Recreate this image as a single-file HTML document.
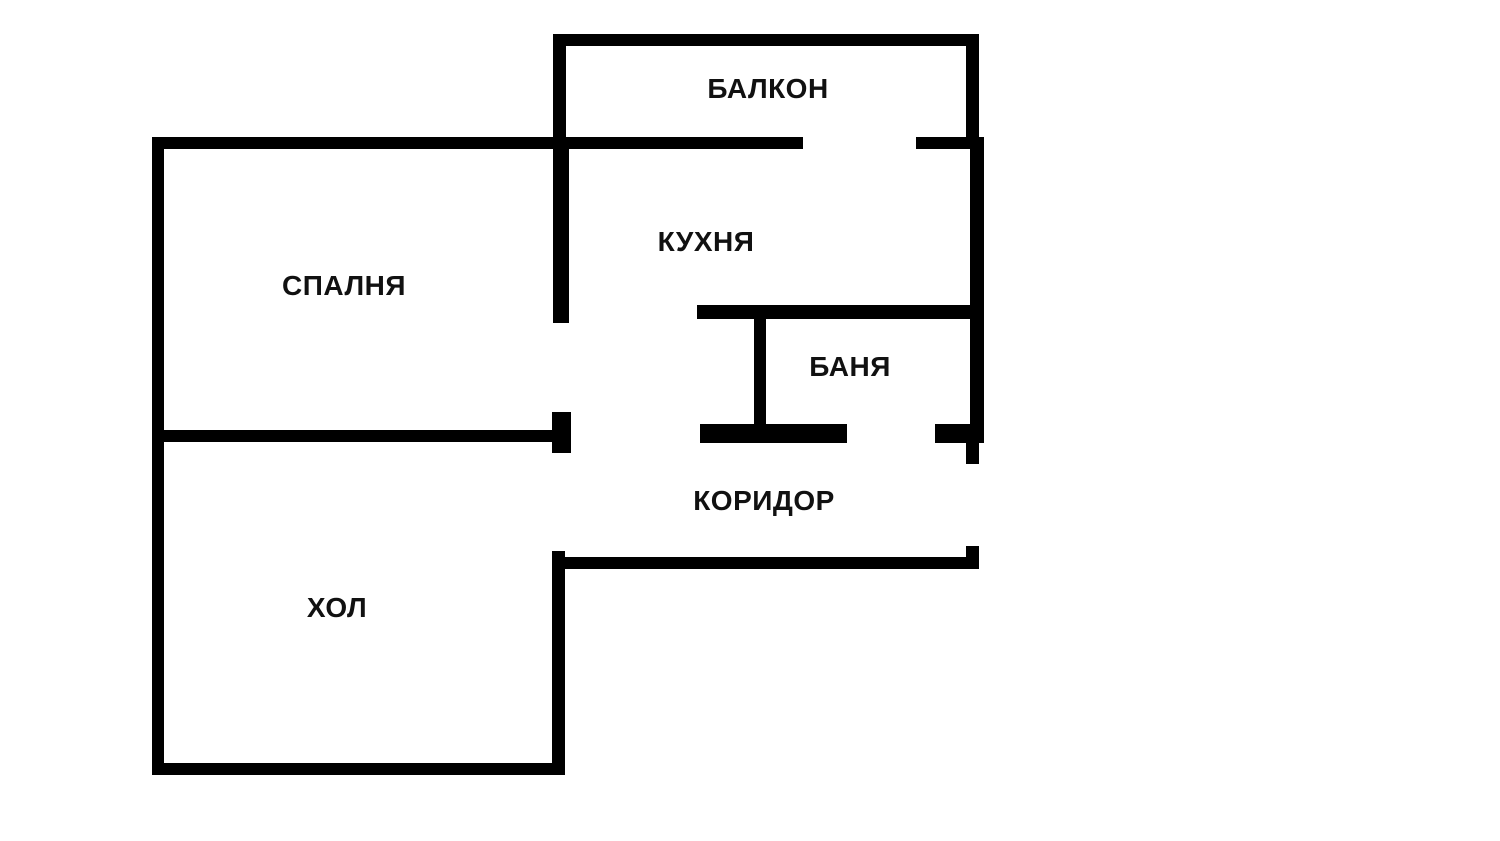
<!DOCTYPE html>
<html><head><meta charset="utf-8"><style>
html,body{margin:0;padding:0;background:#fff;}
#c{position:relative;width:1500px;height:841px;overflow:hidden;background:#fff;}
.w{position:absolute;background:#000;}
.t{position:absolute;font-family:"Liberation Sans","DejaVu Sans",sans-serif;font-weight:bold;font-size:28px;color:#111;transform:translate(-50%,-50%);white-space:nowrap;letter-spacing:0.5px;}
</style></head><body><div id="c">
<div class="w" style="left:553px;top:34px;width:426px;height:12px"></div>
<div class="w" style="left:553px;top:34px;width:13px;height:106px"></div>
<div class="w" style="left:966px;top:34px;width:13px;height:106px"></div>
<div class="w" style="left:152px;top:137px;width:651px;height:12px"></div>
<div class="w" style="left:916px;top:137px;width:68px;height:12px"></div>
<div class="w" style="left:970px;top:137px;width:14px;height:306px"></div>
<div class="w" style="left:152px;top:137px;width:12px;height:638px"></div>
<div class="w" style="left:553px;top:137px;width:16px;height:186px"></div>
<div class="w" style="left:152px;top:430px;width:418px;height:12px"></div>
<div class="w" style="left:552px;top:412px;width:19px;height:41px"></div>
<div class="w" style="left:697px;top:305px;width:287px;height:14px"></div>
<div class="w" style="left:754px;top:305px;width:12px;height:135px"></div>
<div class="w" style="left:700px;top:424px;width:147px;height:19px"></div>
<div class="w" style="left:935px;top:424px;width:49px;height:19px"></div>
<div class="w" style="left:966px;top:440px;width:13px;height:24px"></div>
<div class="w" style="left:553px;top:557px;width:426px;height:12px"></div>
<div class="w" style="left:966px;top:546px;width:13px;height:23px"></div>
<div class="w" style="left:552px;top:551px;width:13px;height:224px"></div>
<div class="w" style="left:152px;top:763px;width:413px;height:12px"></div>
<div class="t" style="left:768px;top:89px">БАЛКОН</div>
<div class="t" style="left:706px;top:242px">КУХНЯ</div>
<div class="t" style="left:344px;top:286px">СПАЛНЯ</div>
<div class="t" style="left:850px;top:367px">БАНЯ</div>
<div class="t" style="left:764px;top:501px">КОРИДОР</div>
<div class="t" style="left:337px;top:608px">ХОЛ</div>
</div></body></html>
